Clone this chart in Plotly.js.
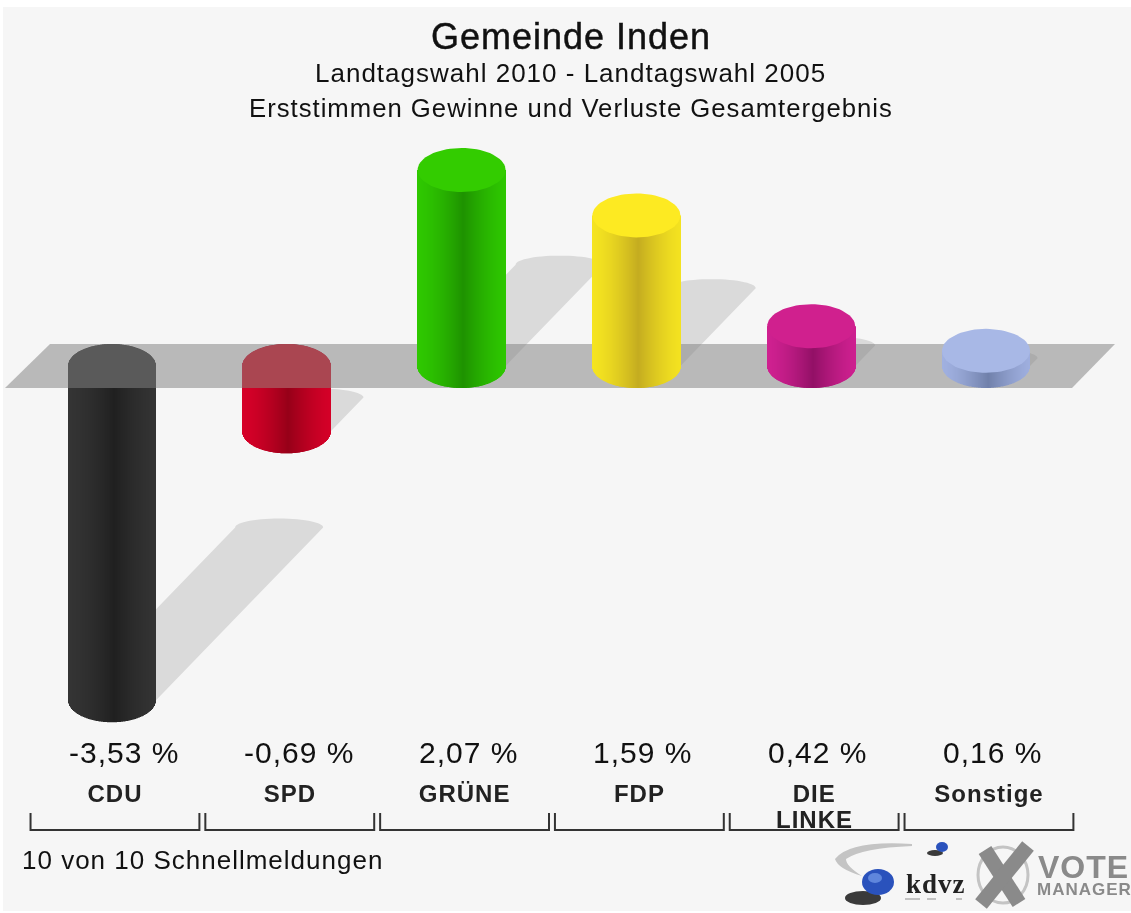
<!DOCTYPE html>
<html><head><meta charset="utf-8">
<script src="https://cdn.plot.ly/plotly-3.0.1.min.js"></script>
<style>
html,body{margin:0;padding:0;background:#fff}
#chart{width:1131px;height:913px;filter:blur(0.55px)}
svg text{letter-spacing:1px}
.gtitle{stroke:#111;stroke-width:0.45px}
</style></head><body><div id="chart"></div>
<script>
const categories = ["CDU","SPD","GRÜNE","FDP","DIE LINKE","Sonstige"];
const tickLabels = ["CDU","SPD","GRÜNE","FDP","DIE","Sonstige"];
const values = [-3.53,-0.69,2.07,1.59,0.42,0.16];
const valueLabels = ["-3,53 %","-0,69 %","2,07 %","1,59 %","0,42 %","0,16 %"];
const edgeColors = [[52,52,52],[214,0,40],[46,200,0],[245,228,32],[207,32,144],[160,176,224]];
const midColors = [[32,32,32],[150,0,24],[30,146,0],[196,172,32],[146,16,102],[112,128,170]];
const capColors = ["#2b2b2b","#d70019","#33cc00","#fdea22","#d0208e","#a8b8e6"];

const W=1131,H=913,TOP=130,BOT=775,ZERO=366,UNIT=94.7,STEP=174.8,X0=112;
const xRange=[(0-X0)/STEP,(W-X0)/STEP];
const yRange=[(ZERO-BOT)/UNIT,(ZERO-TOP)/UNIT];
const A=44/STEP,B=22/UNIT;
const px=x=>x/W, py=y=>(BOT-y)/(BOT-TOP);
const N=88;
const idx=categories.map((_,i)=>i);
const neg=idx.filter(i=>values[i]<0), pos=idx.filter(i=>values[i]>=0);

function shade(i,u){
  const t=Math.pow(1-Math.abs(u-0.05)/1.05,1.5);
  const e=edgeColors[i],m=midColors[i];
  return `rgb(${e.map((c,k)=>Math.round(c+(m[k]-c)*t)).join(",")})`;
}
const traces=[];
for(let k=0;k<N;k++){
  const u=(k+0.5)/N*2-1, s=Math.sqrt(1-u*u), off=-A+2*A*k/N, wd=2*A/N;
  traces.push({type:"bar",opacity:1,x:neg,base:neg.map(i=>values[i]-B*s),y:neg.map(i=>B*s-values[i]+B*s),
    offset:off,width:wd,marker:{color:neg.map(i=>shade(i,u)),opacity:1,line:{width:0}},hoverinfo:"skip",showlegend:false,xaxis:"x",yaxis:"y"});
  traces.push({type:"bar",opacity:1,x:pos,base:pos.map(()=>-B*s),y:pos.map(i=>values[i]+B*s),
    offset:off,width:wd,marker:{color:pos.map(i=>shade(i,u)),opacity:1,line:{width:0}},hoverinfo:"skip",showlegend:false,xaxis:"x2",yaxis:"y2"});
}
function poly(xs,ys,color,xa,ya){
  return {type:"scatter",mode:"lines",x:xs,y:ys,fill:"toself",fillcolor:color,line:{width:0},hoverinfo:"skip",showlegend:false,xaxis:xa,yaxis:ya};
}
// flat top of the falling columns, seen through the band
neg.forEach(i=>{
  const xs=[],ys=[];
  for(let t=0;t<=60;t++){const a=Math.PI*t/60;xs.push(i-A*Math.cos(a));ys.push(B*Math.sin(a));}
  xs.push(i+A,i-A);ys.push(-B,-B);
  traces.push(poly(xs,ys,capColors[i],"x","y"));
});
// zero band
traces.push(poly([(50-X0)/STEP,(1115-X0)/STEP,(1072-X0)/STEP,(5-X0)/STEP],[B,B,-B,-B],"rgba(131,131,131,0.534)","x","y"));
// caps of rising columns
pos.forEach(i=>{
  const xs=[],ys=[];
  for(let t=0;t<=72;t++){const a=2*Math.PI*t/72;xs.push(i+A*Math.cos(a));ys.push(values[i]+B*Math.sin(a));}
  traces.push(poly(xs,ys,capColors[i],"x2","y2"));
});

// cast shadows
const shapes=[];
shapes.push({type:"rect",xref:"paper",yref:"paper",x0:px(3),x1:px(1131),y0:py(911),y1:py(7),fillcolor:"#f6f6f6",line:{width:0},layer:"below"});
idx.forEach(i=>{
  const h=Math.abs(values[i])*UNIT;
  const sx=0.5*h/STEP, sy=0.517*h/UNIT, by=values[i]<0?values[i]:0, sb=9/UNIT;
  const pts=[];
  for(let t=0;t<=30;t++){const a=Math.PI*t/30;pts.push([i+sx+A*Math.cos(a),by+sy+sb*Math.sin(a)]);}
  for(let t=0;t<=30;t++){const a=Math.PI+Math.PI*t/30;pts.push([i+A*Math.cos(a),by+sb*Math.sin(a)]);}
  const d=pts.map((p,n)=>(n?"L":"M")+p[0].toFixed(4)+" "+p[1].toFixed(4)).join(" ")+" Z";
  shapes.push({type:"path",xref:"x",yref:"y",path:d,fillcolor:"#dadada",line:{width:0},layer:"below"});
});
// brackets under the categories
idx.forEach(i=>{
  const l=i-0.466,r=i+0.5,t=py(813),b=py(830);
  shapes.push({type:"path",xref:"x",yref:"paper",path:`M${l} ${t} L${l} ${b} L${r} ${b} L${r} ${t}`,line:{color:"#333",width:2},layer:"above"});
});
// logo artwork
function pth(d,fill,lineColor,lw){
  const s=d.replace(/(-?\d+(?:\.\d+)?) (-?\d+(?:\.\d+)?)/g,(m,a,b)=>px(+a).toFixed(5)+" "+py(+b).toFixed(5));
  shapes.push({type:"path",xref:"paper",yref:"paper",path:s,fillcolor:fill||"rgba(0,0,0,0)",line:lineColor?{color:lineColor,width:lw}:{width:0},layer:"above"});
}
function oval(cx,cy,rx,ry,fill,lineColor,lw){
  shapes.push({type:"circle",xref:"paper",yref:"paper",x0:px(cx-rx),x1:px(cx+rx),y0:py(cy+ry),y1:py(cy-ry),fillcolor:fill||"rgba(0,0,0,0)",line:lineColor?{color:lineColor,width:lw}:{width:0},layer:"above"});
}
pth("M 912 844 Q 850 840 835 859 Q 838 869 862 876 Q 846 866 846 859 Q 862 848 912 846 Z","#c4c4c4");
oval(863,898,18,7,"#3a3a3a");
oval(878,882,16,13,"#2a52bc");
oval(875,878,7,5,"#5f86dc");
oval(935,853,8,3,"#3a3a3a");
oval(942,847,6,5,"#2a52bc");
[[905,920],[927,936],[956,962]].forEach(p=>pth(`M ${p[0]} 899 L ${p[1]} 899`,null,"#b0b0b0",1.5));
oval(1003,875,25,28,null,"#c4c4c4",3);
pth("M 985 850 L 1019 903",null,"#8a8a8a",15);
pth("M 1028 846 L 981 904",null,"#8a8a8a",15);

const ann=[];
function txt(text,x,y,size,opts){
  ann.push(Object.assign({text,xref:"paper",yref:"paper",x:px(x),y:py(y),xanchor:"center",yanchor:"middle",showarrow:false,
    font:{family:"Liberation Sans",size,color:"#111"}},opts||{}));
}
txt("Landtagswahl 2010 - Landtagswahl 2005",570,73,26);
txt("Erststimmen Gewinne und Verluste Gesamtergebnis",571,108,25.7);
txt("10 von 10 Schnellmeldungen",20,860,26,{xanchor:"left"});
txt("kdvz",936,884,27,{font:{family:"Liberation Serif",size:27,color:"#222",weight:700}});
txt("VOTE",1083,867,32,{font:{family:"Liberation Sans",size:32,color:"#8a8a8a",weight:700}});
txt("MANAGER",1084,889,17,{font:{family:"Liberation Sans",size:17,color:"#8a8a8a",weight:700}});
txt("LINKE",814,820,24,{font:{family:"Liberation Sans",size:24,color:"#222",weight:700}});
idx.forEach(i=>{
  ann.push({text:valueLabels[i],xref:"x",yref:"paper",x:i,y:py(752),xshift:values[i]<0?12:6.5,xanchor:"center",yanchor:"middle",showarrow:false,
    font:{family:"Liberation Sans",size:30,color:"#111"}});
});

const layout={
  width:W,height:H,margin:{l:0,r:0,t:TOP,b:H-BOT,pad:0},
  paper_bgcolor:"#ffffff",plot_bgcolor:"rgba(0,0,0,0)",barmode:"overlay",showlegend:false,
  title:{text:"Gemeinde Inden",x:571/W,xanchor:"center",y:1-36/H,yanchor:"middle",font:{family:"Liberation Sans",size:36,color:"#111"}},
  xaxis:{range:xRange,showgrid:false,zeroline:false,showline:false,ticks:"",tickmode:"array",
    tickvals:idx.map(i=>i+3/STEP),ticktext:tickLabels,ticklabelstandoff:2,tickangle:0,
    tickfont:{family:"Liberation Sans",size:24,color:"#222",weight:700}},
  yaxis:{range:yRange,visible:false,fixedrange:true},
  xaxis2:{range:xRange,overlaying:"x",visible:false},
  yaxis2:{range:yRange,overlaying:"y",visible:false},
  shapes,annotations:ann
};
Plotly.newPlot("chart",traces,layout,{displayModeBar:false});
</script></body></html>
